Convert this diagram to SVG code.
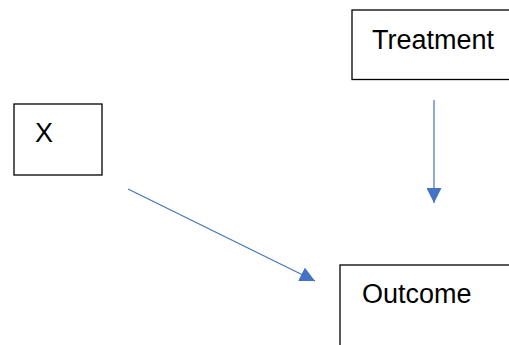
<svg xmlns="http://www.w3.org/2000/svg" width="509" height="345" viewBox="0 0 509 345">
<style>
.box{fill:#fff;stroke:#000;stroke-width:1.3}
.lbl{font-family:"Liberation Sans",Arial,sans-serif;font-size:27px;fill:#000}
.edge{stroke:#4472C4;stroke-width:1.2;fill:none}
</style>
<defs>
<marker id="ah" viewBox="0 0 10 10" refX="10" refY="5" markerWidth="15" markerHeight="15" markerUnits="userSpaceOnUse" orient="auto">
<path d="M0,0 L10,5 L0,10 z" fill="#4472C4"/>
</marker>
</defs>
<rect width="509" height="345" fill="#fff"/>
<g id="treatment"><rect class="box" x="352" y="10" width="170" height="69.5"/><text class="lbl" x="372" y="49">Treatment</text></g>
<g id="x"><rect class="box" x="14" y="104" width="88" height="71"/><text class="lbl" x="35" y="142">X</text></g>
<g id="outcome"><rect class="box" x="340" y="265" width="190" height="100"/><text class="lbl" x="362" y="303">Outcome</text></g>
<g id="connectors">
<line class="edge" x1="434" y1="100" x2="434" y2="203" marker-end="url(#ah)"/>
<line class="edge" x1="128" y1="189" x2="315" y2="281" marker-end="url(#ah)"/>
</g>
</svg>
